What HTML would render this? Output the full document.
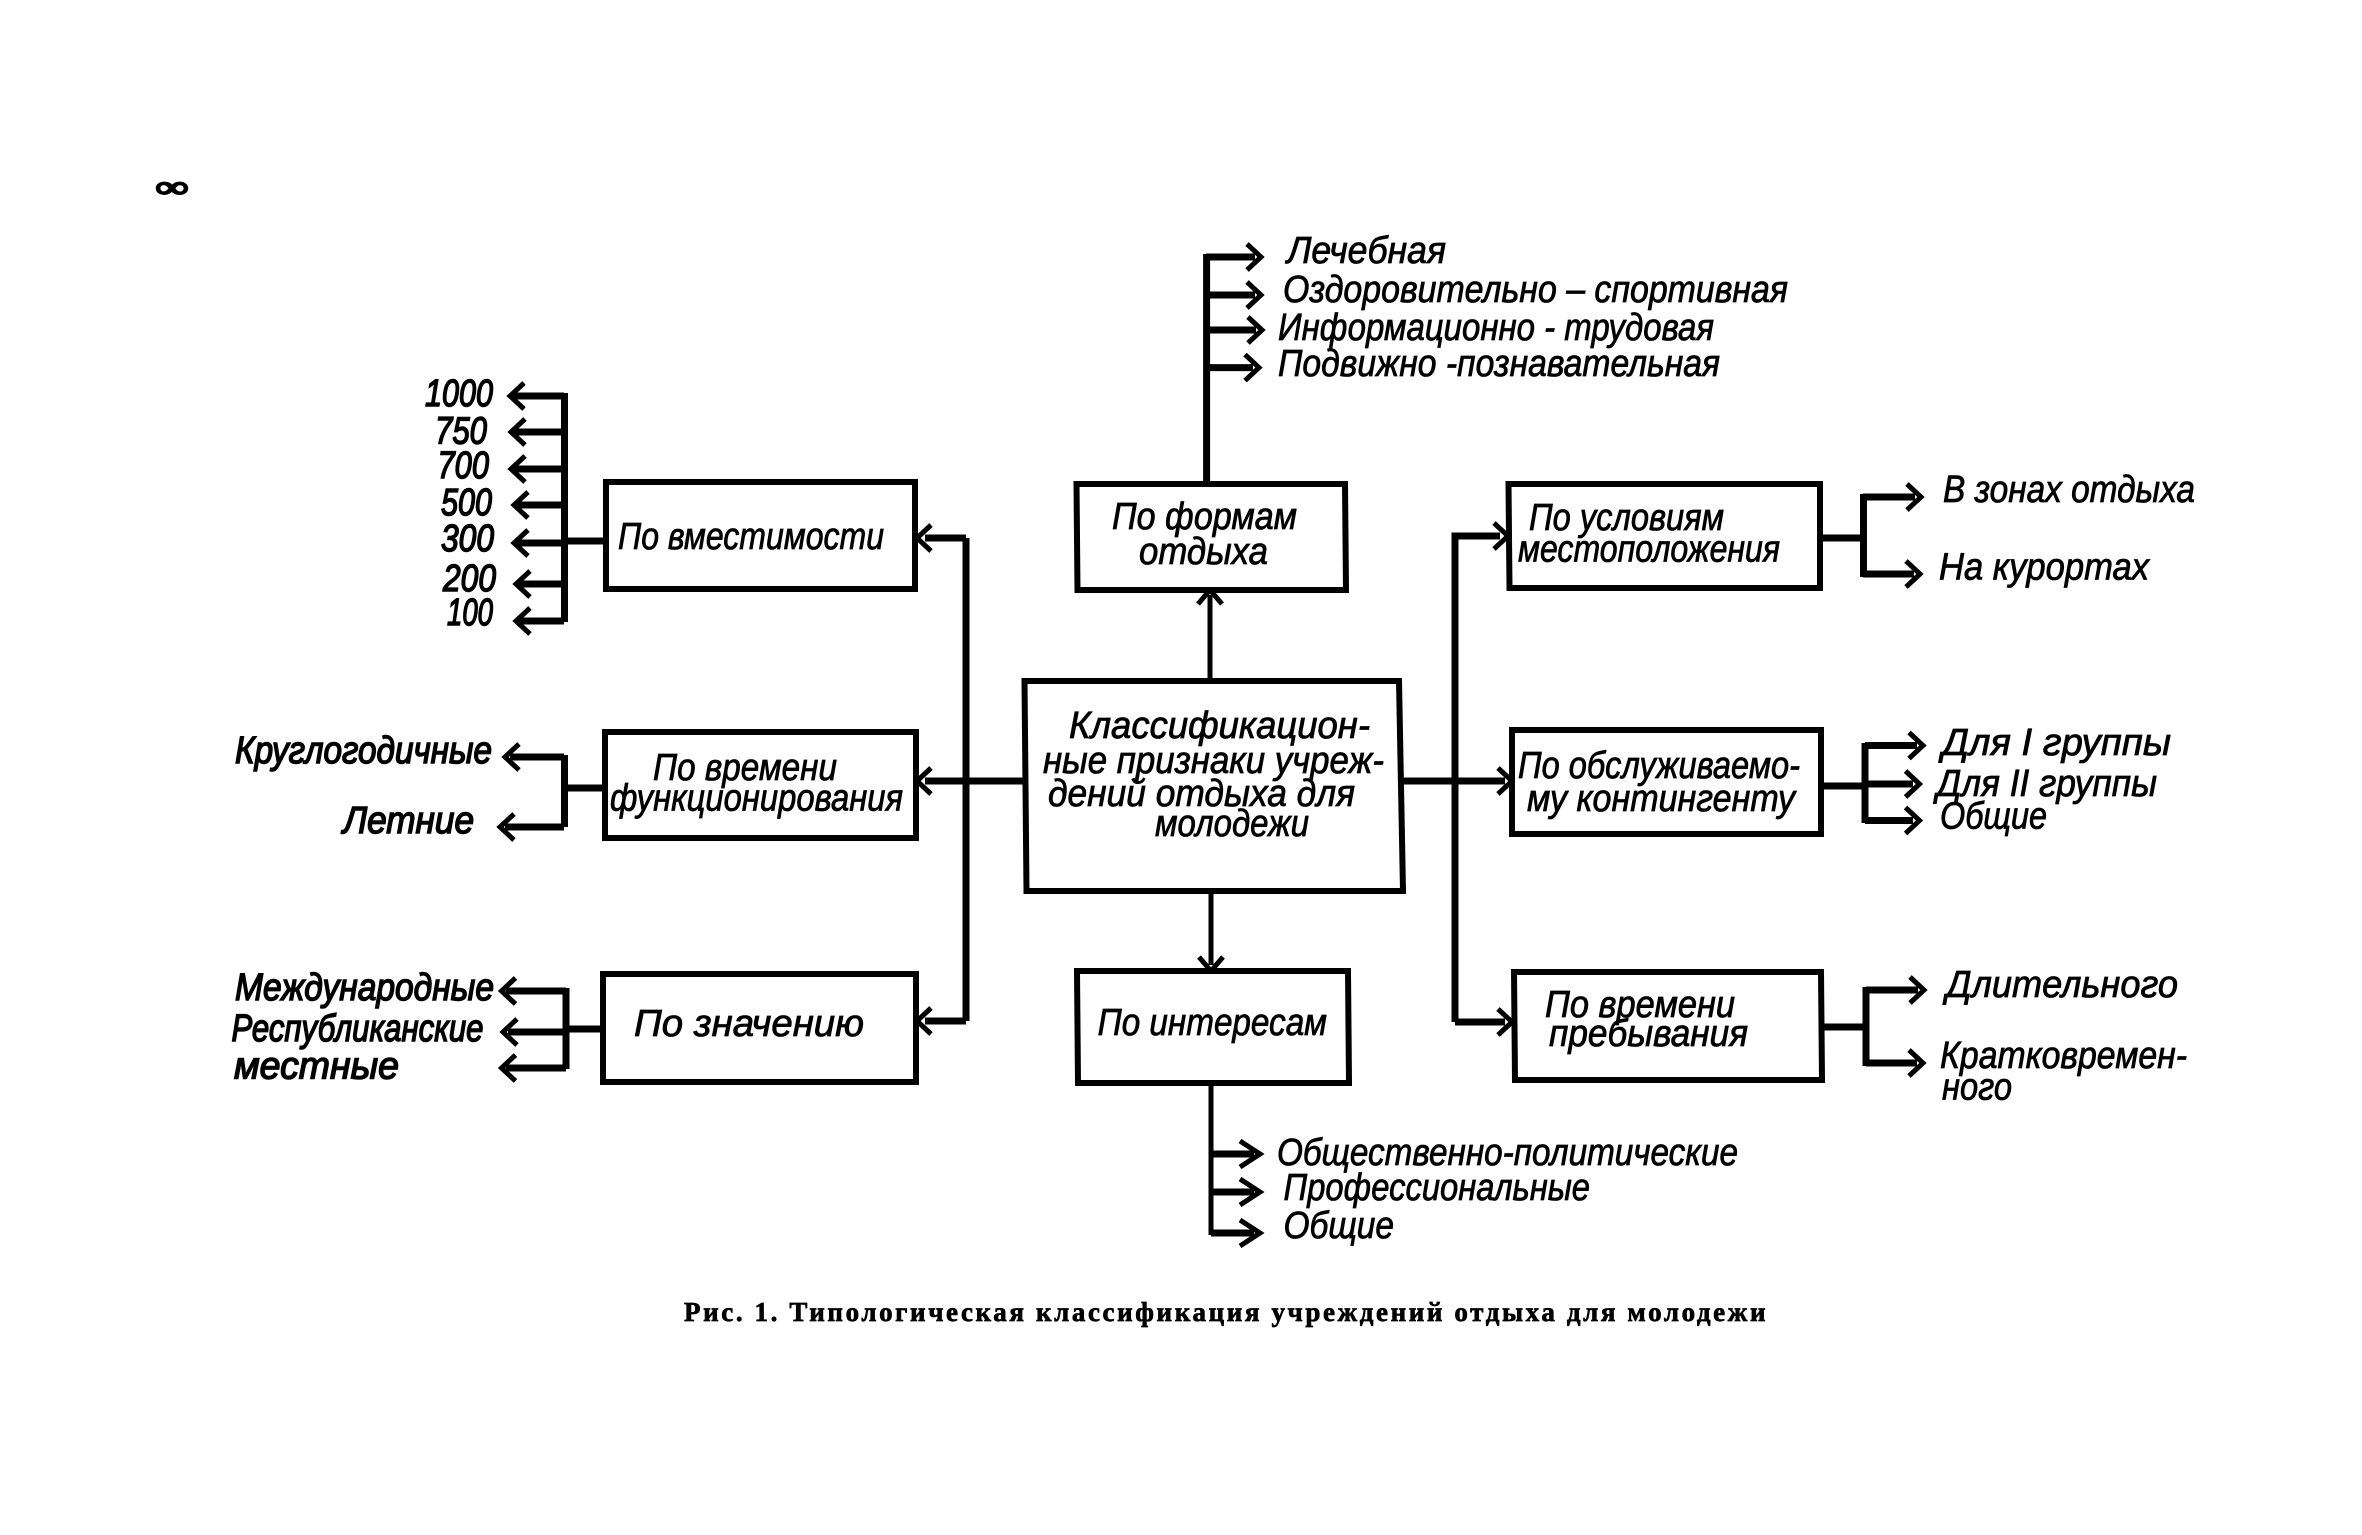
<!DOCTYPE html>
<html lang="ru">
<head>
<meta charset="utf-8">
<title>Типологическая классификация учреждений отдыха для молодежи</title>
<style>
html,body{margin:0;padding:0;background:#fff;}
svg{display:block;}
.b{fill:#fff;stroke:#000;stroke-width:6;stroke-linejoin:miter;}
.l{fill:none;stroke:#000;stroke-width:7;stroke-linejoin:miter;}
.n{fill:none;stroke:#000;stroke-width:5;stroke-linejoin:miter;}
text{font-family:"Liberation Sans",sans-serif;font-style:italic;font-size:38px;fill:#000;stroke:#000;stroke-width:.8;}
.k{stroke-width:1.5;}
.c{font-family:"Liberation Serif",serif;font-style:normal;font-weight:bold;font-size:27px;stroke-width:.7;}
</style>
</head>
<body>
<svg width="2362" height="1535" viewBox="0 0 2362 1535" xmlns="http://www.w3.org/2000/svg">
<rect width="2362" height="1535" fill="#fff"/>

<text x="156" y="197" textLength="32" lengthAdjust="spacingAndGlyphs" class="c" style="font-size:30px;stroke-width:2">∞</text>

<!-- bus lines -->
<path class="l" d="M1024 781H925M966 538V1021M966 538H925M966 1021H925"/>
<path class="l" d="M1403 781H1505M1455 1022V536H1500M1455 1022H1505"/>
<path class="n" d="M1210 681V595M1211 891V965"/>
<path class="n" d="M931 525L917 538L931 551M931 768L917 781L931 794M931 1008L917 1021L931 1034"/>
<path class="n" d="M1494 523L1508 536L1494 549M1498 768L1512 781L1498 794M1498 1009L1512 1022L1498 1035"/>
<path class="n" d="M1198 604L1210 590L1222 604M1199 957L1211 971L1223 957"/>

<!-- boxes -->
<polygon class="b" points="606,482 915,482 915,589 606,589"/>
<polygon class="b" points="605,732 916,732 916,838 605,838"/>
<polygon class="b" points="603,974 916,974 916,1082 603,1082"/>
<polygon class="b" points="1076.500,484 1345,484 1346,590 1077.500,590"/>
<polygon class="b" points="1024.500,681 1399,681 1403,891 1026.500,891"/>
<polygon class="b" points="1077,971 1348,971 1349,1083 1078,1083"/>
<polygon class="b" points="1508.500,484 1820,484 1820,588 1509.500,588"/>
<polygon class="b" points="1512,730 1821,730 1821,834 1512,834"/>
<polygon class="b" points="1514,972 1821,972 1822,1080 1515,1080"/>

<!-- capacity group -->
<path class="l" d="M564.500 393V622M606 541H564M514 396H564M514 432H564M514 469H564M518 505H564M518 543H564M520 584H564M520 621H564"/>
<path class="n" d="M524 383L510 396L524 409M525 419L511 432L525 445M525 456L511 469L525 482M528 492L514 505L528 518M528 530L514 543L528 556M530 571L516 584L530 597M530 608L516 621L530 634"/>

<!-- time of function group -->
<path class="l" d="M564.500 755V827M605 788H564M510 757H564M505 827H564"/>
<path class="n" d="M519 744L505 757L519 770M514 814L500 827L514 840"/>

<!-- significance group -->
<path class="l" d="M566 988V1069M603 1029H566M506 991H566M508 1032H566M506 1068H566"/>
<path class="n" d="M515.500 978L501.500 991L515.500 1004M517 1019L503 1032L517 1045M515.500 1055L501.500 1068L515.500 1081"/>

<!-- top group -->
<path class="l" d="M1206.600 482V254M1206 257H1255M1206 295H1255M1206 330H1256M1206 367.600H1253"/>
<path class="n" d="M1247 244L1261 257L1247 270M1247 282L1261 295L1247 308M1248 317L1262 330L1248 343M1245 354.600L1259 367.600L1245 380.600"/>

<!-- bottom group -->
<path class="n" d="M1211 1083V1235"/>
<path class="l" d="M1211 1154H1254M1211 1192H1254M1211 1233H1254"/>
<path class="n" d="M1240 1141L1260 1154L1240 1167M1240 1179L1260 1192L1240 1205M1240 1220L1260 1233L1240 1246"/>

<!-- right groups -->
<path class="l" d="M1820 538H1863.500M1863.500 494V577M1863 497H1915M1863 574H1914"/>
<path class="n" d="M1907 484L1921 497L1907 510M1906 561L1920 574L1906 587"/>
<path class="l" d="M1821 786H1865M1865 743V823M1865 745.500H1917M1865 784H1913M1865 820.500H1913"/>
<path class="n" d="M1909 732.500L1923 745.500L1909 758.500M1905.500 771L1919.500 784L1905.500 797M1905.500 807.500L1919.500 820.500L1905.500 833.500"/>
<path class="l" d="M1821 1027H1866M1866 987V1066M1866 990H1918M1866 1063H1917"/>
<path class="n" d="M1910 977L1924 990L1910 1003M1909 1050L1923 1063L1909 1076"/>

<!-- labels: top -->
<text x="1287" y="263" textLength="159" lengthAdjust="spacingAndGlyphs">Лечебная</text>
<text x="1283" y="302" textLength="505" lengthAdjust="spacingAndGlyphs">Оздоровительно – спортивная</text>
<text x="1278" y="340" textLength="436" lengthAdjust="spacingAndGlyphs">Информационно - трудовая</text>
<text x="1278" y="376" textLength="442" lengthAdjust="spacingAndGlyphs">Подвижно -познавательная</text>

<!-- capacity -->
<text x="425" y="406" textLength="68" lengthAdjust="spacingAndGlyphs" class="k">1000</text>
<text x="435" y="443.500" textLength="52" lengthAdjust="spacingAndGlyphs" class="k">750</text>
<text x="437.500" y="478" textLength="51.500" lengthAdjust="spacingAndGlyphs" class="k">700</text>
<text x="441" y="515" textLength="51" lengthAdjust="spacingAndGlyphs" class="k">500</text>
<text x="441" y="551" textLength="53" lengthAdjust="spacingAndGlyphs" class="k">300</text>
<text x="443" y="591" textLength="53" lengthAdjust="spacingAndGlyphs" class="k">200</text>
<text x="447" y="625" textLength="46" lengthAdjust="spacingAndGlyphs" class="k">100</text>

<!-- boxes text -->
<text x="618" y="549" textLength="266" lengthAdjust="spacingAndGlyphs">По вместимости</text>
<text x="653" y="780" textLength="184" lengthAdjust="spacingAndGlyphs">По времени</text>
<text x="610" y="810.500" textLength="293" lengthAdjust="spacingAndGlyphs">функционирования</text>
<text x="634" y="1036" textLength="230" lengthAdjust="spacingAndGlyphs">По значению</text>
<text x="1112" y="529" textLength="185" lengthAdjust="spacingAndGlyphs">По формам</text>
<text x="1139" y="564" textLength="129" lengthAdjust="spacingAndGlyphs">отдыха</text>
<text x="1069" y="738" textLength="301" lengthAdjust="spacingAndGlyphs">Классификацион-</text>
<text x="1043" y="773" textLength="341" lengthAdjust="spacingAndGlyphs">ные признаки учреж-</text>
<text x="1048" y="806" textLength="307" lengthAdjust="spacingAndGlyphs">дений отдыха для</text>
<text x="1155" y="836" textLength="154" lengthAdjust="spacingAndGlyphs">молодежи</text>
<text x="1097.600" y="1035" textLength="229.400" lengthAdjust="spacingAndGlyphs">По интересам</text>
<text x="1529" y="530" textLength="195" lengthAdjust="spacingAndGlyphs">По условиям</text>
<text x="1518" y="561.600" textLength="262" lengthAdjust="spacingAndGlyphs">местоположения</text>
<text x="1518" y="778" textLength="282" lengthAdjust="spacingAndGlyphs">По обслуживаемо-</text>
<text x="1527" y="811" textLength="268" lengthAdjust="spacingAndGlyphs">му контингенту</text>
<text x="1545" y="1017" textLength="190" lengthAdjust="spacingAndGlyphs">По времени</text>
<text x="1549" y="1046" textLength="199" lengthAdjust="spacingAndGlyphs">пребывания</text>

<!-- left labels -->
<text x="235" y="763" textLength="257" lengthAdjust="spacingAndGlyphs" class="k">Круглогодичные</text>
<text x="343" y="833" textLength="131" lengthAdjust="spacingAndGlyphs" class="k">Летние</text>
<text x="235" y="1000" textLength="259" lengthAdjust="spacingAndGlyphs" class="k">Международные</text>
<text x="231.500" y="1041" textLength="252" lengthAdjust="spacingAndGlyphs" class="k">Республиканские</text>
<text x="234" y="1078.500" textLength="165" lengthAdjust="spacingAndGlyphs" class="k">местные</text>

<!-- right labels -->
<text x="1943" y="502" textLength="252" lengthAdjust="spacingAndGlyphs">В зонах отдыха</text>
<text x="1939" y="579.500" textLength="210" lengthAdjust="spacingAndGlyphs">На курортах</text>
<text x="1942" y="755" textLength="229" lengthAdjust="spacingAndGlyphs">Для I группы</text>
<text x="1936.500" y="796" textLength="220.500" lengthAdjust="spacingAndGlyphs">Для II группы</text>
<text x="1940" y="828.600" textLength="107" lengthAdjust="spacingAndGlyphs">Общие</text>
<text x="1946" y="997" textLength="232" lengthAdjust="spacingAndGlyphs">Длительного</text>
<text x="1940" y="1068" textLength="247" lengthAdjust="spacingAndGlyphs">Кратковремен-</text>
<text x="1942" y="1099.500" textLength="70" lengthAdjust="spacingAndGlyphs">ного</text>

<!-- bottom labels -->
<text x="1277" y="1165" textLength="461" lengthAdjust="spacingAndGlyphs">Общественно-политические</text>
<text x="1283.500" y="1200" textLength="306.500" lengthAdjust="spacingAndGlyphs">Профессиональные</text>
<text x="1283.500" y="1238" textLength="110.500" lengthAdjust="spacingAndGlyphs">Общие</text>

<!-- caption -->
<text x="684" y="1321" textLength="1081.500" lengthAdjust="spacing" class="c">Рис. 1. Типологическая классификация учреждений отдыха для молодежи</text>
</svg>
</body>
</html>
